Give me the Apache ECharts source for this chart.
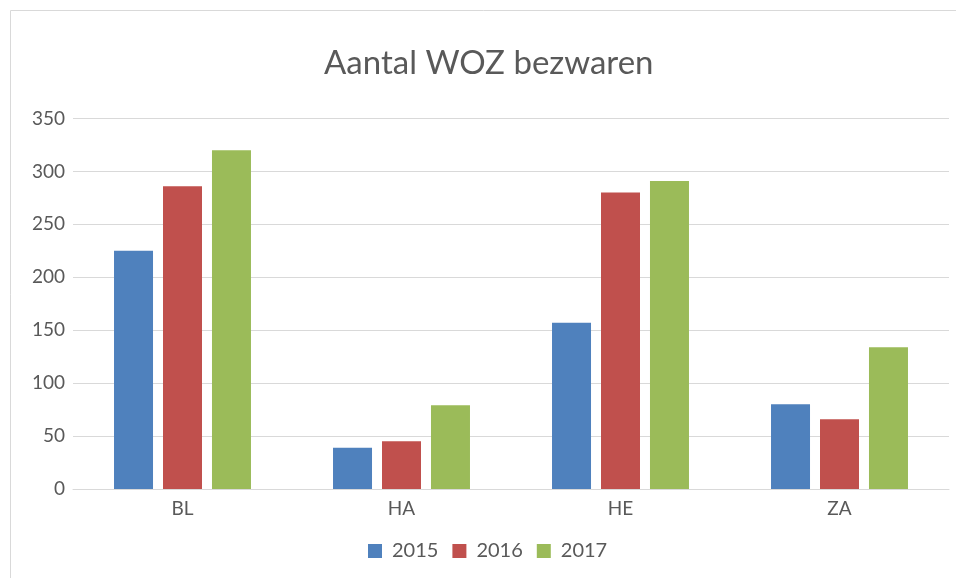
<!DOCTYPE html>
<html>
<head>
<meta charset="utf-8">
<script src="https://cdn.jsdelivr.net/npm/echarts@6/dist/echarts.min.js"></script>
<style>
html,body{margin:0;padding:0;background:#fff;}
#chart{width:956px;height:578px;}
</style>
</head>
<body>
<div id="chart"></div>
<script>
const categories = ['BL', 'HA', 'HE', 'ZA'];
const seriesNames = ['2015', '2016', '2017'];
const values2015 = [225, 39, 157, 80];
const values2016 = [286, 45, 280, 66];
const values2017 = [320, 79, 291, 134];
const yTicks = [0, 50, 100, 150, 200, 250, 300, 350];
const colors = ['#4f81bd', '#c0504d', '#9bbb59'];
const FONT = 'Lato, Carlito, "Open Sans", sans-serif';

const chart = echarts.init(document.getElementById('chart'), null, {renderer: 'canvas'});
const allValues = [values2015, values2016, values2017];
chart.setOption({
  animation: false,
  color: colors,
  textStyle: {fontFamily: FONT},
  graphic: [{
    type: 'rect',
    shape: {x: 10.5, y: 10.5, width: 1000, height: 1000},
    style: {fill: 'none', stroke: '#d9d9d9', lineWidth: 1},
    silent: true, z: -1
  }],
  title: {
    text: 'Aantal WOZ bezwaren',
    left: 324,
    top: 47,
    padding: 0,
    textStyle: {fontFamily: FONT, fontSize: 33, fontWeight: 'normal', color: '#595959'}
  },
  legend: {
    data: seriesNames,
    left: 368,
    top: 541,
    padding: 0,
    itemWidth: 14,
    itemHeight: 14,
    itemGap: 14,
    icon: 'rect',
    textStyle: {fontFamily: FONT, fontSize: 20, color: '#595959', padding: [0, 0, 0, 5]}
  },
  grid: {left: 73, right: 7, top: 118.5, bottom: 89, containLabel: false},
  xAxis: {
    type: 'category',
    data: categories,
    axisLine: {lineStyle: {color: '#d9d9d9', width: 1}},
    axisTick: {show: false},
    axisLabel: {fontFamily: FONT, fontSize: 19, color: '#595959', margin: 10}
  },
  yAxis: {
    type: 'value',
    min: yTicks[0],
    max: yTicks[yTicks.length - 1],
    interval: 50,
    axisLine: {show: false},
    axisTick: {show: false},
    splitLine: {lineStyle: {color: '#d9d9d9', width: 1}},
    axisLabel: {fontFamily: FONT, fontSize: 19, color: '#595959', margin: 8}
  },
  series: seriesNames.map((name, i) => ({
    name: name,
    type: 'bar',
    data: allValues[i],
    barWidth: 39,
    barGap: '25.6%',
    itemStyle: {color: colors[i]}
  }))
});
</script>
</body>
</html>
